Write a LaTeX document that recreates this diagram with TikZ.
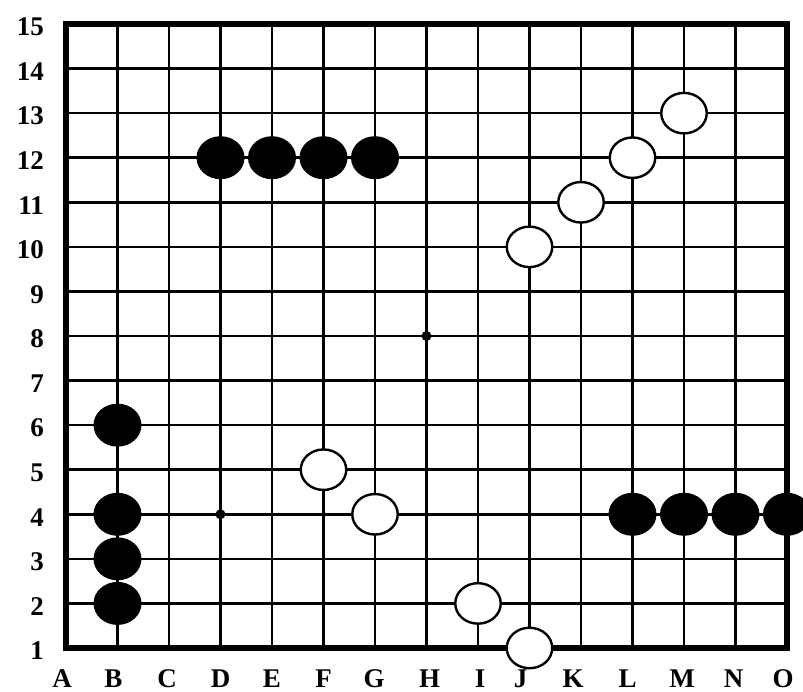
\documentclass[tikz,border=0pt]{standalone}
\usepackage{fontspec}
\setmainfont{Liberation Serif}
\usetikzlibrary{shapes.geometric}
\begin{document}
\begin{tikzpicture}[x=51.5pt,y=44.57pt,
  gridline/.style={line width=2.6pt},
  frameline/.style={line width=6.5pt, line join=miter},
  stone/.style={ellipse, inner sep=0pt},
  bstone/.style={stone, fill=black, minimum width=48pt, minimum height=43pt},
  wstone/.style={stone, fill=white, draw=black, line width=2.4pt, minimum width=45.5pt, minimum height=40.5pt},
  star/.style={circle, fill=black, minimum size=10pt, inner sep=0pt},
  lbl/.style={font=\fontsize{27}{27}\selectfont\bfseries, inner sep=0pt}]
\useasboundingbox (-66pt,-44pt) rectangle (737pt,648pt);
% grid
\foreach \i in {1,...,13} {
  \draw[gridline] (\i,0) -- (\i,14);
  \draw[gridline] (0,\i) -- (14,\i);
}
\draw[frameline] (0,0) rectangle (14,14);
% star points
\node[star] (sH8) at (7,7) {};
\node[star] (sD4) at (3,3) {};
% column letters
\foreach \l/\c/\dx in {A/0/-4pt,B/1/-4pt,C/2/-2pt,D/3/0pt,E/4/0pt,F/5/0pt,G/6/-1pt,H/7/3pt,I/8/2pt,J/9/-9pt,K/10/-8pt,L/11/-5pt,M/12/-2pt,N/13/-2pt,O/14/-4pt}
  \node[lbl] (l\l) at ([xshift=\dx]\c,-0.68) {\l};
% row numbers
\foreach \r in {1,...,15}
  \node[lbl, anchor=east] (n\r) at ([xshift=-22pt,yshift=-3pt]0,\r-1) {\r};
% black stones
\foreach \n/\c/\r in {D12/3/11,E12/4/11,F12/5/11,G12/6/11,B6/1/5,B4/1/3,B3/1/2,B2/1/1,L4/11/3,M4/12/3,N4/13/3,O4/14/3}
  \node[bstone] (\n) at (\c,\r) {};
% white stones
\foreach \n/\c/\r in {M13/12/12,L12/11/11,K11/10/10,J10/9/9,F5/5/4,G4/6/3,I2/8/1,J1/9/0}
  \node[wstone] (\n) at (\c,\r) {};
\end{tikzpicture}
\end{document}
